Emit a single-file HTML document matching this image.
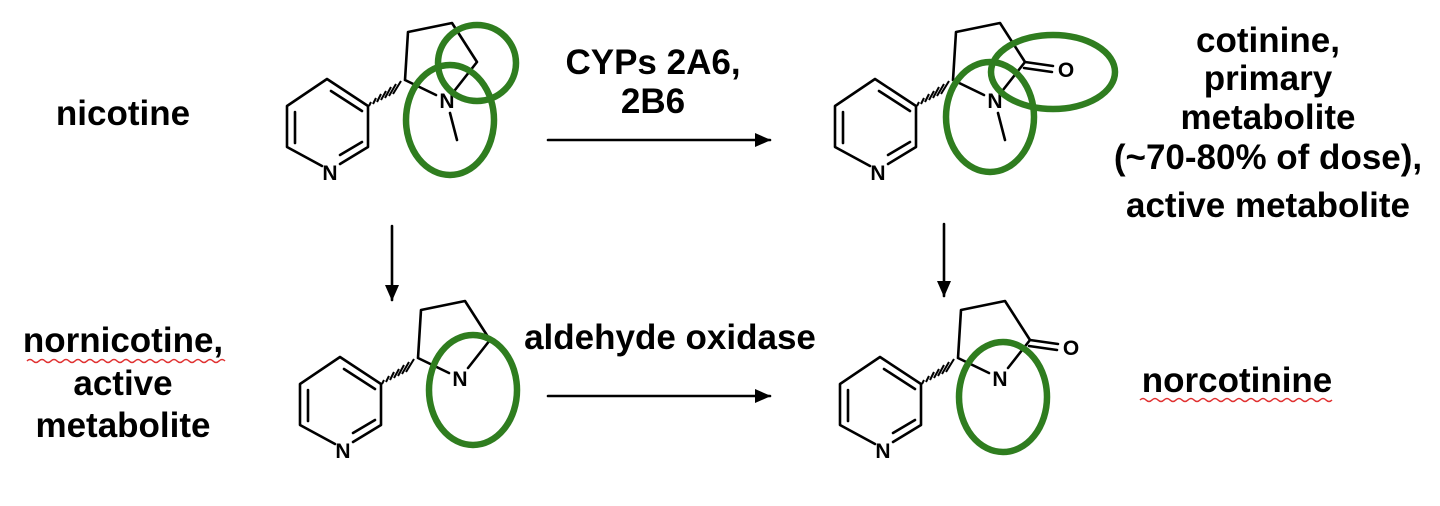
<!DOCTYPE html>
<html><head><meta charset="utf-8"><style>
html,body{margin:0;padding:0;background:#fff;}
svg{display:block}
text{font-family:"Liberation Sans",Arial,sans-serif;font-weight:bold;fill:#000}
.b{stroke:#000;stroke-width:2.6;fill:none;stroke-linecap:round;stroke-linejoin:round}
.g{stroke:#2f7d1f;stroke-width:6.5;fill:none}
.t{font-size:35px;text-anchor:middle}
.a{font-size:21px;font-weight:bold;text-anchor:middle}
</style></head><body>
<svg width="1440" height="506" viewBox="0 0 1440 506" xmlns="http://www.w3.org/2000/svg">
<defs>
<marker id="ah" markerWidth="16" markerHeight="14" refX="15" refY="7" orient="auto" markerUnits="userSpaceOnUse"><path d="M0,0 L16,7 L0,14 z" fill="#000"/></marker>
<g id="pyr">
  <path class="b" d="M322,166 L287,147 L287,106 L327,79 L368,106 L368,147 L340,164"/>
  <path class="b" d="M331,91 L362,111 M295,112 L295,143 M340,155 L362,142"/>
  <text x="330" y="180" class="a">N</text>
  <g stroke="#000" stroke-width="2">
    <line x1="371" y1="102" x2="369" y2="106"/><line x1="376" y1="98" x2="373" y2="104"/><line x1="381" y1="94" x2="377" y2="102"/><line x1="386" y1="91" x2="381" y2="100"/><line x1="391" y1="87" x2="385" y2="98"/><line x1="396" y1="84" x2="389" y2="96"/><line x1="401" y1="81" x2="393" y2="94"/>
  </g>
</g>
</defs>

<!-- nicotine -->
<use href="#pyr"/>
<path class="b" d="M405,80 L408,32 L452,23 L477,62 L455,90 M405,80 L436,95 M450,113 L457,140"/>
<text x="447" y="108" class="a">N</text>
<ellipse class="g" cx="450" cy="120" rx="44" ry="55"/>
<ellipse class="g" cx="477" cy="63" rx="39" ry="38"/>

<!-- cotinine -->
<g transform="translate(548,0)">
<use href="#pyr"/>
<path class="b" d="M405,80 L408,32 L452,23 L477,62 L455,90 M405,80 L436,95 M450,113 L457,140 M477,62 L505,66 M476,68 L504,72"/>
<text x="447" y="108" class="a">N</text>
<text x="518" y="77" class="a">O</text>
<ellipse class="g" cx="442" cy="117" rx="44" ry="55"/>
<ellipse class="g" cx="505" cy="72" rx="62" ry="37"/>
</g>

<!-- nornicotine -->
<g transform="translate(13,278)">
<use href="#pyr"/>
<path class="b" d="M405,80 L408,32 L452,23 L477,62 L455,90 M405,80 L436,95"/>
<text x="447" y="108" class="a">N</text>
<ellipse class="g" cx="460" cy="112" rx="44" ry="55"/>
</g>

<!-- norcotinine -->
<g transform="translate(553,278)">
<use href="#pyr"/>
<path class="b" d="M405,80 L408,32 L452,23 L477,62 L455,90 M405,80 L436,95 M477,62 L505,66 M476,68 L504,72"/>
<text x="447" y="108" class="a">N</text>
<text x="518" y="77" class="a">O</text>
<ellipse class="g" cx="450" cy="119" rx="44" ry="55"/>
</g>

<!-- arrows -->
<line class="b" x1="548" y1="140" x2="770" y2="140" marker-end="url(#ah)"/>
<line class="b" x1="548" y1="396" x2="770" y2="396" marker-end="url(#ah)"/>
<line class="b" x1="392" y1="226" x2="392" y2="300" marker-end="url(#ah)"/>
<line class="b" x1="944" y1="224" x2="944" y2="296" marker-end="url(#ah)"/>

<!-- labels -->
<text x="123" y="125" class="t">nicotine</text>
<text x="653" y="74" class="t">CYPs 2A6,</text>
<text x="653" y="113" class="t">2B6</text>
<text x="1268" y="52" class="t">cotinine,</text>
<text x="1268" y="90" class="t">primary</text>
<text x="1268" y="129" class="t">metabolite</text>
<text x="1268" y="169" class="t">(~70-80% of dose),</text>
<text x="1268" y="217" class="t">active metabolite</text>
<text x="123" y="352" class="t">nornicotine,</text>
<text x="123" y="395" class="t">active</text>
<text x="123" y="437" class="t">metabolite</text>
<text x="670" y="349" class="t">aldehyde oxidase</text>
<text x="1237" y="392" class="t">norcotinine</text>
<path d="M27,361 q3,-3 6,0 t6,0 t6,0 t6,0 t6,0 t6,0 t6,0 t6,0 t6,0 t6,0 t6,0 t6,0 t6,0 t6,0 t6,0 t6,0 t6,0 t6,0 t6,0 t6,0 t6,0 t6,0 t6,0 t6,0 t6,0 t6,0 t6,0 t6,0 t6,0 t6,0 t6,0 t6,0 t6,0" stroke="#e03030" stroke-width="1.5" fill="none"/>
<path d="M1140,400 q3,-3 6,0 t6,0 t6,0 t6,0 t6,0 t6,0 t6,0 t6,0 t6,0 t6,0 t6,0 t6,0 t6,0 t6,0 t6,0 t6,0 t6,0 t6,0 t6,0 t6,0 t6,0 t6,0 t6,0 t6,0 t6,0 t6,0 t6,0 t6,0 t6,0 t6,0 t6,0 t6,0" stroke="#e03030" stroke-width="1.5" fill="none"/>
</svg>
</body></html>
